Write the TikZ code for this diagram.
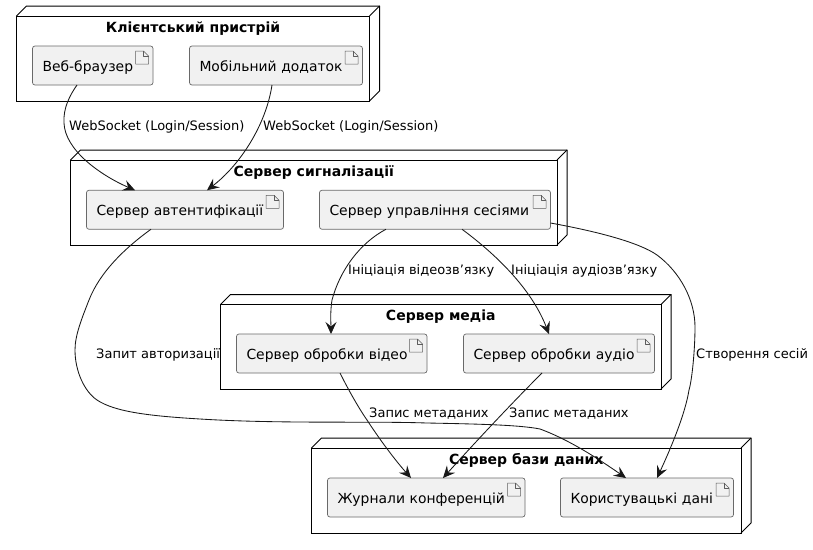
\documentclass[tikz,border=0pt]{standalone}
\usepackage{fontspec}
\setmainfont{DejaVu Sans}
\usetikzlibrary{arrows.meta}
\definecolor{ink}{HTML}{181818}
\definecolor{boxfill}{HTML}{F1F1F1}
\tikzset{
  framebox/.style={draw=black,line width=1pt,rectangle,inner sep=0pt,outer sep=0pt},
  frameline/.style={draw=black,line width=1pt,line join=round},
  frametitle/.style={anchor=base,font=\fontsize{14}{16}\selectfont\bfseries,inner sep=0pt,text=black},
  artbox/.style={draw=ink!65,line width=.7pt,fill=boxfill,rounded corners=2.5pt,rectangle,outer sep=0pt,
    minimum height=39pt,minimum width=#1 pt,text width={(#1-20)*1pt},align=left,inner xsep=10pt,inner ysep=0pt,
    text height=14pt,text depth=3pt,font=\fontsize{13.9}{16}\selectfont,text=black},
  iconline/.style={draw=ink!70,line width=.5pt,line join=round},
  edge/.style={draw=ink,line width=.85pt,-{Stealth[length=12pt,width=11pt,inset=4.5pt]}},
  edgelabel/.style={anchor=base west,inner sep=0pt,font=\fontsize{13}{15}\selectfont,text=black}
}
\newcommand{\nodedepth}[1]{%
  \path[frameline] (#1.north west) -- ([shift={(10pt,10pt)}]#1.north west)
    -- ([shift={(10pt,10pt)}]#1.north east) -- ([shift={(10pt,10pt)}]#1.south east) -- (#1.south east);
  \path[frameline] (#1.north east) -- ([shift={(10pt,10pt)}]#1.north east);}
\newcommand{\arteicon}[1]{%
  \path[iconline] ([shift={(-17.5pt,-5pt)}]#1.north east) -- ([shift={(-9.5pt,-5pt)}]#1.north east)
    -- ([shift={(-4.5pt,-10pt)}]#1.north east) -- ([shift={(-4.5pt,-18pt)}]#1.north east)
    -- ([shift={(-17.5pt,-18pt)}]#1.north east) -- cycle;
  \path[iconline] ([shift={(-9.5pt,-5pt)}]#1.north east) -- ([shift={(-9.5pt,-10pt)}]#1.north east)
    -- ([shift={(-4.5pt,-10pt)}]#1.north east);}
\begin{document}
\begin{tikzpicture}[x=1pt,y=-1pt]
\useasboundingbox[fill=white] (0,0) rectangle (813,549);
% frames
\node[framebox,minimum width=353pt,minimum height=85pt] (client) at (193,58.5) {};
\node[framebox,minimum width=486.5pt,minimum height=85pt] (signal) at (313.75,202.5) {};
\node[framebox,minimum width=440.5pt,minimum height=84.5pt] (media) at (440.75,346.75) {};
\node[framebox,minimum width=429.5pt,minimum height=85pt] (db) at (526.25,490.5) {};
\nodedepth{client}\nodedepth{signal}\nodedepth{media}\nodedepth{db}
% titles
\node[frametitle] (tclient) at (193,32.5) {Клієнтський пристрій};
\node[frametitle] (tsignal) at (313.75,176.5) {Сервер сигналізації};
\node[frametitle] (tmedia) at (440.75,320.5) {Сервер медіа};
\node[frametitle] (tdb) at (526.25,464.5) {Сервер бази даних};
% artifacts
\node[artbox=120.5] (web) at (92.75,65.5) {Веб-браузер};
\node[artbox=173] (mob) at (276,65.5) {Мобільний додаток};
\node[artbox=197] (auth) at (185,209.75) {Сервер автентифікації};
\node[artbox=231] (sess) at (435,209.75) {Сервер управління сесіями};
\node[artbox=190.5] (vid) at (331.75,353.5) {Сервер обробки відео};
\node[artbox=191] (aud) at (559,353.5) {Сервер обробки аудіо};
\node[artbox=197.5] (jour) at (426.25,497.5) {Журнали конференцій};
\node[artbox=173] (user) at (647,497.5) {Користувацькі дані};
\arteicon{web}\arteicon{mob}\arteicon{auth}\arteicon{sess}\arteicon{vid}\arteicon{aud}\arteicon{jour}\arteicon{user}
% connectors
\path[edge] ([xshift=-15.75pt]web.south) .. controls (70,95) and (63,108) .. (64,123)
  .. controls (65,150) and (100,175) .. ([xshift=-50pt]auth.north);
\path[edge] ([xshift=-4pt]mob.south) .. controls (266,125) and (240,165) .. ([xshift=22pt]auth.north);
\path[edge] ([xshift=-34pt]auth.south) .. controls (125,248) and (100,272) .. (89,300)
  .. controls (82,318) and (75,335) .. (75,350) .. controls (75,372) and (85,392) .. (97,400)
  .. controls (115,412) and (150,416) .. (200,419) .. controls (280,424) and (370,421) .. (427,423)
  .. controls (480,424) and (520,425) .. (540,429) .. controls (570,440) and (600,460) .. ([xshift=-21pt]user.north);
\path[edge] ([xshift=-49pt]sess.south) .. controls (360,243) and (340,270) .. (332,300)
  .. controls (330,312) and (331,325) .. ([xshift=-0.75pt]vid.north);
\path[edge] ([xshift=27pt]sess.south) .. controls (490,250) and (530,285) .. ([xshift=-10pt]aud.north);
\path[edge] ([yshift=-13.25pt]sess.east) .. controls (600,232) and (640,243) .. (657,255)
  .. controls (680,272) and (695,300) .. (695,327) .. controls (695,350) and (692,380) .. (689,390)
  .. controls (685,415) and (670,450) .. ([xshift=10pt]user.north);
\path[edge] ([xshift=8.25pt]vid.south) .. controls (350,393) and (360,410) .. (367,420)
  .. controls (380,440) and (395,460) .. ([xshift=-15.25pt]jour.north);
\path[edge] ([xshift=-17pt]aud.south) .. controls (515,400) and (480,437) .. ([xshift=16.75pt]jour.north);
% connector labels
\node[edgelabel] (l1) at (69,130) {WebSocket (Login/Session)};
\node[edgelabel] (l2) at (263,130) {WebSocket (Login/Session)};
\node[edgelabel] (l3) at (348,274.5) {Ініціація відеозв’язку};
\node[edgelabel] (l4) at (511,274.5) {Ініціація аудіозв’язку};
\node[edgelabel] (l5) at (96,358) {Запит авторизації};
\node[edgelabel] (l6) at (696,358) {Створення сесій};
\node[edgelabel] (l7) at (369,417.5) {Запис метаданих};
\node[edgelabel] (l8) at (509,417.5) {Запис метаданих};
\end{tikzpicture}
\end{document}
